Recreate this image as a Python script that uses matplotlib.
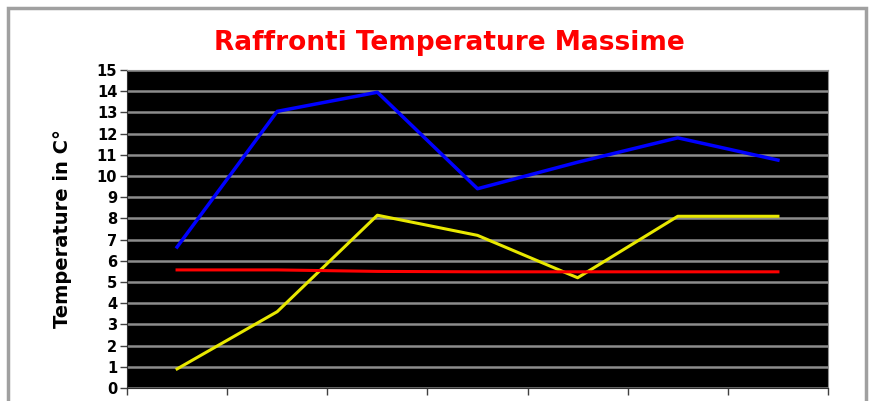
import numpy as np
import matplotlib.pyplot as plt
from matplotlib.patches import Rectangle

# valori
periodi = [1, 2, 3, 4, 5, 6, 7]
blu = [6.65, 13.05, 13.95, 9.4, 10.65, 11.8, 10.75]
giallo = [0.9, 3.6, 8.15, 7.2, 5.2, 8.1, 8.1]
rosso = [5.57, 5.57, 5.5, 5.48, 5.48, 5.48, 5.48]
yticks = list(range(0, 16))

fig = plt.figure(figsize=(8.74, 4.01), dpi=100)
fig.patches.append(Rectangle((8/874, -0.1), (866-8)/874, 1.1 - 8/401, transform=fig.transFigure,
                             fill=False, edgecolor='#a0a0a0', linewidth=2.5))

ax = fig.add_axes([127/874, 1-388/401, (828-127)/874, (388-70)/401])
ax.set_facecolor('black')
x = np.arange(len(periodi))
ax.plot(x, blu, color='#0000ff', linewidth=2.5)
ax.plot(x, giallo, color='#e8e800', linewidth=2.2)
ax.plot(x, rosso, color='#ff0000', linewidth=2.2)

ax.set_xlim(-0.5, len(periodi) - 0.5)
ax.set_ylim(0, 15)
ax.set_yticks(yticks)
ax.set_yticklabels([str(t) for t in yticks], fontweight='bold', fontsize=10.5)
ax.set_xticks(np.arange(-0.5, len(periodi), 1.0))
ax.set_xticklabels([])
ax.tick_params(axis='both', length=5, width=1, color='#404040', pad=2)
ax.yaxis.grid(True, color='#8c8c8c', linewidth=1.8)
ax.set_axisbelow(True)
for s in ['top', 'right']:
    ax.spines[s].set_color('#909090')
ax.spines['left'].set_color('#303030')
ax.spines['bottom'].set_color('#303030')

ax.set_ylabel('Temperature in C°', fontsize=14, fontweight='semibold', labelpad=18)
fig.text(0.514, 1-43/401, 'Raffronti Temperature Massime', color='red', fontsize=19,
         fontweight='bold', ha='center', va='center')

fig.savefig('out.png', dpi=100)
